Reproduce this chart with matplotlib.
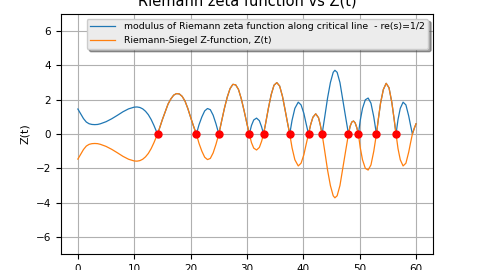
import numpy as np
import matplotlib
matplotlib.use("Agg")
import matplotlib.pyplot as plt

# Z(t) (orange), blue curve is |Z(t)|
t = [0, 0.5, 1, 1.5, 2, 2.5, 3, 3.5, 4, 5, 6, 7, 8, 9, 10, 10.5, 11, 11.5, 12, 12.5, 13, 13.5,
     14.13, 14.5, 15, 15.5, 16, 16.5, 17, 17.5, 18, 18.5, 19, 19.5, 20, 20.5,
     21.02, 21.5, 22, 22.5, 23, 23.5, 24, 24.5,
     25.01, 25.5, 26, 26.5, 27, 27.5, 28, 28.5, 29, 29.5, 30,
     30.42, 30.8, 31.2, 31.7, 32.2, 32.6,
     32.94, 33.3, 33.8, 34.3, 34.8, 35.3, 35.8, 36.3, 36.8, 37.2,
     37.59, 38.0, 38.5, 39.1, 39.6, 40.1, 40.5,
     40.92, 41.3, 41.7, 42.2, 42.7, 43.0,
     43.33, 43.8, 44.3, 44.8, 45.3, 45.6, 46.0, 46.5, 47.0, 47.5,
     48.01, 48.3, 48.6, 48.9, 49.2, 49.5,
     49.77, 50.1, 50.5, 51.0, 51.5, 52.0, 52.5,
     52.97, 53.3, 53.7, 54.2, 54.7, 55.2, 55.7, 56.1,
     56.45, 56.8, 57.2, 57.7, 58.2, 58.7, 59.0,
     59.35, 59.7, 60]
z = [-1.46, -1.18, -0.90, -0.70, -0.60, -0.56, -0.55, -0.56, -0.60, -0.72, -0.89, -1.09, -1.30, -1.47, -1.57, -1.58, -1.55, -1.47, -1.33, -1.13, -0.85, -0.50,
     0, 0.35, 0.85, 1.3, 1.75, 2.05, 2.27, 2.36, 2.34, 2.2, 1.93, 1.5, 0.98, 0.48,
     0, -0.55, -1.0, -1.35, -1.49, -1.42, -1.1, -0.6,
     0, 0.75, 1.5, 2.15, 2.65, 2.9, 2.87, 2.6, 2.05, 1.35, 0.6,
     0, -0.5, -0.82, -0.93, -0.78, -0.42,
     0, 0.6, 1.5, 2.3, 2.85, 3.0, 2.8, 2.2, 1.35, 0.65,
     0, -0.8, -1.5, -1.86, -1.7, -1.2, -0.6,
     0, 0.55, 0.98, 1.18, 0.95, 0.55,
     0, -1.0, -2.1, -3.0, -3.6, -3.72, -3.6, -3.0, -2.0, -1.0,
     0, 0.45, 0.7, 0.76, 0.65, 0.36,
     0, -0.8, -1.5, -2.0, -2.1, -1.8, -1.0,
     0, 0.85, 1.8, 2.6, 2.96, 2.7, 1.85, 0.9,
     0, -0.85, -1.5, -1.86, -1.7, -1.05, -0.55,
     0, 0.35, 0.6]

# zeros marked in red
zeros_t = [14.13, 21.02, 25.01, 30.42, 32.94, 37.59, 40.92, 43.33, 48.01, 49.77, 52.97, 56.45]

t = np.array(t)
z = np.array(z)

fig = plt.figure(figsize=(4.8, 2.7), dpi=100)
ax = fig.add_axes([0.127, 0.059, 0.775, 0.889])

ax.plot(t, np.abs(z), lw=0.9, label="modulus of Riemann zeta function along critical line  - re(s)=1/2")
ax.plot(t, z, lw=0.9, label="Riemann-Siegel Z-function, Z(t)")
ax.plot(zeros_t, np.zeros(len(zeros_t)), "ro", ms=5)

ax.set_ylim(-7, 7)
ax.set_yticks([-6, -4, -2, 0, 2, 4, 6])
ax.set_xticks([0, 10, 20, 30, 40, 50, 60])
ax.tick_params(labelsize=7.5)
ax.grid(True)
ax.set_ylabel("Z(t)", fontsize=8)
ax.set_title("Riemann zeta function vs Z(t)", fontsize=10.5, pad=6.5)
leg = ax.legend(loc="upper right", shadow=True, fontsize=6.75, handlelength=2.65,
                handletextpad=0.9, facecolor="#ececec", framealpha=1)

fig.savefig("out.png", dpi=100)
